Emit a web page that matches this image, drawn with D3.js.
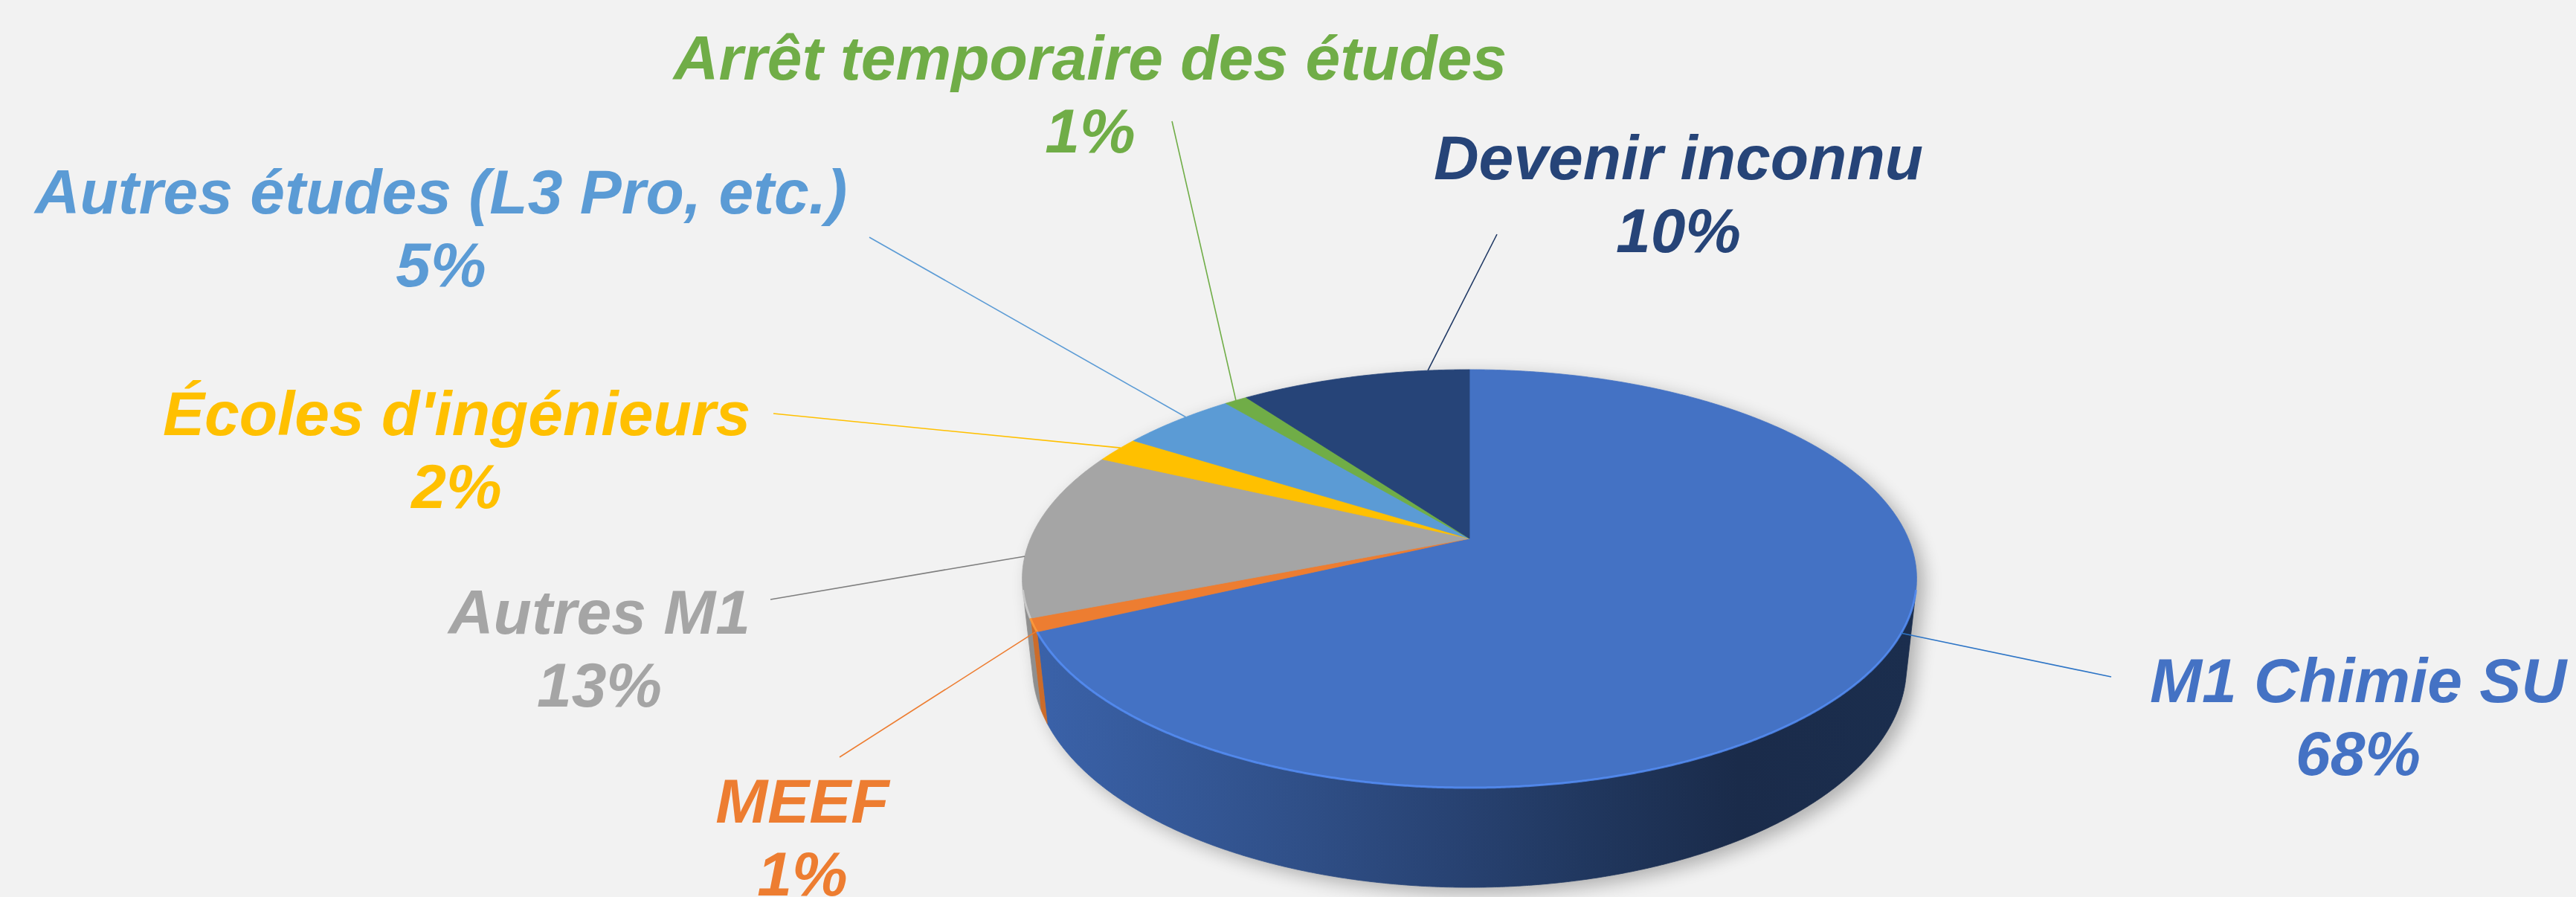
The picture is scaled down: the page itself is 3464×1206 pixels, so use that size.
<!DOCTYPE html>
<html><head><meta charset="utf-8">
<script src="https://cdn.jsdelivr.net/npm/d3@7"></script>
<style>html,body{margin:0;padding:0;background:#F2F2F2;overflow:hidden}</style>
</head><body>
<svg id="c" width="3464" height="1206" xmlns="http://www.w3.org/2000/svg"></svg>
<script>
// ---- data ----
const categories = ["M1 Chimie SU", "MEEF", "Autres M1", "Écoles d'ingénieurs", "Autres études (L3 Pro, etc.)", "Arrêt temporaire des études", "Devenir inconnu"];
const values = [68, 1, 13, 2, 5, 1, 10];
const percentLabels = ["68%", "1%", "13%", "2%", "5%", "1%", "10%"];

// ---- styles ----
const colors = ["#4472C4", "#ED7D31", "#A5A5A5", "#FFC000", "#5B9BD5", "#70AD47", "#264478"];
const leaderColors = ["#2E75C6", "#ED7D31", "#7F7F7F", "#FFC000", "#5B9BD5", "#70AD47", "#1F3864"];

// ---- layout (label placement) ----
const labelLayout = [
  {cx: 3171, by: 944, lx: 2839, ly: 910, frac: 0.472},
  {cx: 1079, by: 1106, lx: 1129, ly: 1018, frac: 0.05},
  {cx: 806, by: 852, lx: 1036, ly: 806, frac: 0.355},
  {cx: 614, by: 585, lx: 1040, ly: 556, frac: 0.6},
  {cx: 593, by: 287, lx: 1169, ly: 319, frac: 0.59},
  {cx: 1466, by: 107, lx: 1576, ly: 163, frac: 0.5},
  {cx: 2257, by: 241, lx: 2013, ly: 315, frac: 0.82}
];

// ---- 3D perspective projection ----
const CX = 1976, CY = 724, F = 2729, DIST = 4.624, ALPHA = 27.3 * Math.PI / 180, H = 0.2265;
const ca = Math.cos(ALPHA), sa = Math.sin(ALPHA);
function proj3(x, y, z) {
  const up = y * ca - z * sa;
  const depth = DIST - (z * ca + y * sa);
  return [CX + F * x / depth, CY - F * up / depth];
}
function rim(theta, y) { return proj3(Math.sin(theta), y, -Math.cos(theta)); }
function arcPts(a0, a1, y) {
  const n = Math.max(2, Math.ceil(Math.abs(a1 - a0) / (0.25 * Math.PI / 180)));
  const pts = [];
  for (let i = 0; i <= n; i++) pts.push(rim(a0 + (a1 - a0) * i / n, y));
  return pts;
}
// visible range of the outer wall
const V0 = Math.acos(-1 / (DIST * ca)), V1 = 2 * Math.PI - V0;

const pie = d3.pie().sort(null).value(d => d).startAngle(0).endAngle(2 * Math.PI);
const arcs = pie(values);
const line = d3.line().curve(d3.curveLinear);

const svg = d3.select("#c");
svg.append("rect").attr("width", 3464).attr("height", 1206).attr("fill", "#F2F2F2");
const defs = svg.append("defs");

// shadow filter
const flt = defs.append("filter").attr("id", "sh").attr("x", "-20%").attr("y", "-20%").attr("width", "140%").attr("height", "140%");
flt.append("feGaussianBlur").attr("stdDeviation", 12);

// side gradients
const gx0 = CX - 602, gx1 = CX + 602;
arcs.forEach((a, i) => {
  const g = defs.append("linearGradient").attr("id", "side" + i)
    .attr("gradientUnits", "userSpaceOnUse").attr("x1", gx0).attr("x2", gx1).attr("y1", 0).attr("y2", 0);
  const mix = (k) => d3.interpolateRgb("#000", colors[i])(k);
  [[0, 0.87], [0.3, 0.70], [0.5, 0.57], [0.62, 0.49], [0.8, 0.38], [1, 0.40]].forEach(([o, k]) => {
    g.append("stop").attr("offset", o).attr("stop-color", mix(k));
  });
});

// shadow
const fullTop = arcPts(0, 2 * Math.PI, 0);
const bandPts = arcPts(V0, V1, 0).concat(arcPts(V1, V0, -H));
svg.append("g").attr("filter", "url(#sh)").attr("transform", "translate(10,8)").attr("opacity", 0.28)
  .call(g => {
    g.append("path").attr("d", line(fullTop) + "Z").attr("fill", "#000");
    g.append("path").attr("d", line(bandPts) + "Z").attr("fill", "#000");
  });

// side walls
const sideG = svg.append("g");
arcs.forEach((a, i) => {
  const s0 = Math.max(a.startAngle, V0), s1 = Math.min(a.endAngle, V1);
  if (s1 <= s0) return;
  const pts = arcPts(s0, s1, 0).concat(arcPts(s1, s0, -H));
  sideG.append("path").attr("d", line(pts) + "Z").attr("fill", `url(#side${i})`)
    .attr("stroke", `url(#side${i})`).attr("stroke-width", 0.8);
});

// top faces
const topG = svg.append("g");
arcs.forEach((a, i) => {
  const pts = [proj3(0, 0, 0)].concat(arcPts(a.startAngle, a.endAngle, 0));
  topG.append("path").attr("d", line(pts) + "Z").attr("fill", colors[i])
    .attr("stroke", colors[i]).attr("stroke-width", 0.8).attr("stroke-linejoin", "round");
});

// front rim highlight
arcs.forEach((a, i) => {
  const s0 = Math.max(a.startAngle, V0), s1 = Math.min(a.endAngle, V1);
  if (s1 <= s0) return;
  topG.append("path").attr("d", line(arcPts(s0, s1, 0))).attr("fill", "none")
    .attr("stroke", d3.color(colors[i]).brighter(0.7)).attr("stroke-width", 3).attr("opacity", 0.75);
});

// leader lines
const leadG = svg.append("g");
arcs.forEach((a, i) => {
  const L = labelLayout[i];
  const th = a.startAngle + (a.endAngle - a.startAngle) * L.frac;
  const p = rim(th, 0);
  leadG.append("line").attr("x1", L.lx).attr("y1", L.ly).attr("x2", p[0]).attr("y2", p[1])
    .attr("stroke", leaderColors[i]).attr("stroke-width", 1.6);
});

// labels
const labG = svg.append("g")
  .attr("font-family", "'Liberation Sans', Arial, Helvetica, sans-serif")
  .attr("font-weight", "bold").attr("font-style", "italic").attr("font-size", 84)
  .attr("text-anchor", "middle");
arcs.forEach((a, i) => {
  const L = labelLayout[i];
  const t = labG.append("text").attr("fill", colors[i]);
  t.append("tspan").attr("x", L.cx).attr("y", L.by).text(categories[i]);
  t.append("tspan").attr("x", L.cx).attr("y", L.by + 98).text(percentLabels[i]);
});
</script>
</body></html>
